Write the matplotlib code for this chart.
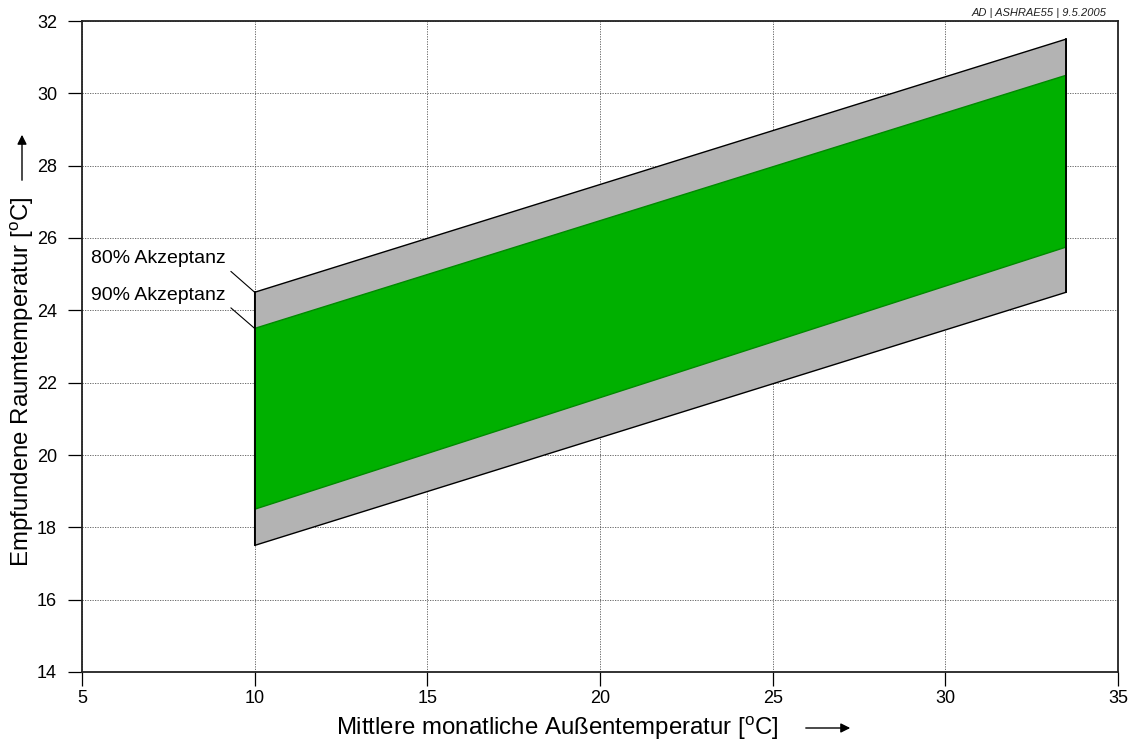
import matplotlib.pyplot as plt
from matplotlib.patches import FancyArrowPatch

plt.rcParams['font.family'] = ['Liberation Sans', 'DejaVu Sans']

# outdoor temperature range of the comfort band
t_out = [10, 33.5]

# 80% acceptance limits (upper / lower)
upper_80 = [24.5, 31.5]
lower_80 = [17.5, 24.5]

# 90% acceptance limits (upper / lower)
upper_90 = [23.5, 30.5]
lower_90 = [18.5, 25.75]

x_ticks = [5, 10, 15, 20, 25, 30, 35]
y_ticks = [14, 16, 18, 20, 22, 24, 26, 28, 30, 32]

W, H = 1130, 742
fig = plt.figure(figsize=(W / 100, H / 100), dpi=100)
ax = fig.add_axes([82 / W, 1 - 672 / H, (1118 - 82) / W, (672 - 21) / H])

# 80% band (grey)
ax.fill(t_out + t_out[::-1], upper_80 + lower_80[::-1],
        facecolor='#b3b3b3', edgecolor='black', linewidth=1.0, zorder=2)
# 90% band (green)
ax.fill(t_out + t_out[::-1], upper_90 + lower_90[::-1],
        facecolor='#00b000', edgecolor='#008a00', linewidth=1.0, zorder=3)
ax.plot([t_out[0], t_out[0]], [lower_80[0], upper_80[0]], color='black', lw=1.3, zorder=4)
ax.plot([t_out[1], t_out[1]], [lower_80[1], upper_80[1]], color='black', lw=1.3, zorder=4)

ax.set_xlim(5, 35)
ax.set_ylim(14, 32)
ax.set_xticks(x_ticks)
ax.set_yticks(y_ticks)
ax.tick_params(direction='out', length=10, width=0.9, labelsize=13)
ax.tick_params(axis='x', pad=3)
ax.tick_params(axis='y', pad=8)
ax.grid(True, color='#555555', linestyle=(0, (1.5, 1.5)), linewidth=0.6, zorder=1)
ax.set_axisbelow(True)
for sp in ax.spines.values():
    sp.set_linewidth(1.3)
    sp.set_color('#222222')
    sp.set_zorder(5)

# labels of the two bands with leader lines
ax.annotate('80% Akzeptanz', xy=(t_out[0], upper_80[0]), xytext=(9.17, 25.43),
            fontsize=14, ha='right', va='center',
            arrowprops=dict(arrowstyle='-', color='black', lw=0.8,
                            shrinkA=2, shrinkB=0, relpos=(1.0, 0.0)))
ax.annotate('90% Akzeptanz', xy=(t_out[0], upper_90[0]), xytext=(9.17, 24.42),
            fontsize=14, ha='right', va='center',
            arrowprops=dict(arrowstyle='-', color='black', lw=0.8,
                            shrinkA=2, shrinkB=0, relpos=(1.0, 0.0)))

# axis titles with arrows
fig.text(557 / W, 1 - 735 / H, 'Mittlere monatliche Außentemperatur [$\\mathregular{^oC}$]',
         fontsize=17.3, ha='center', va='baseline')
fig.text(22 / W, 1 - 382 / H, 'Empfundene Raumtemperatur [$\\mathregular{^oC}$]',
         fontsize=17.3, ha='center', va='center', rotation=90)

fig.patches.append(FancyArrowPatch(
    (803 / W, 1 - 728 / H), (853 / W, 1 - 728 / H), transform=fig.transFigure,
    arrowstyle='-|>', mutation_scale=14, color='black', lw=1.0))
fig.patches.append(FancyArrowPatch(
    (22 / W, 1 - 183 / H), (22 / W, 1 - 132 / H), transform=fig.transFigure,
    arrowstyle='-|>', mutation_scale=14, color='black', lw=1.0))

fig.text(1107 / W, 1 - 13 / H, 'AD | ASHRAE55 | 9.5.2005', fontsize=8,
         style='italic', ha='right', va='center', color='#222222')

fig.savefig('out.png', dpi=100)
